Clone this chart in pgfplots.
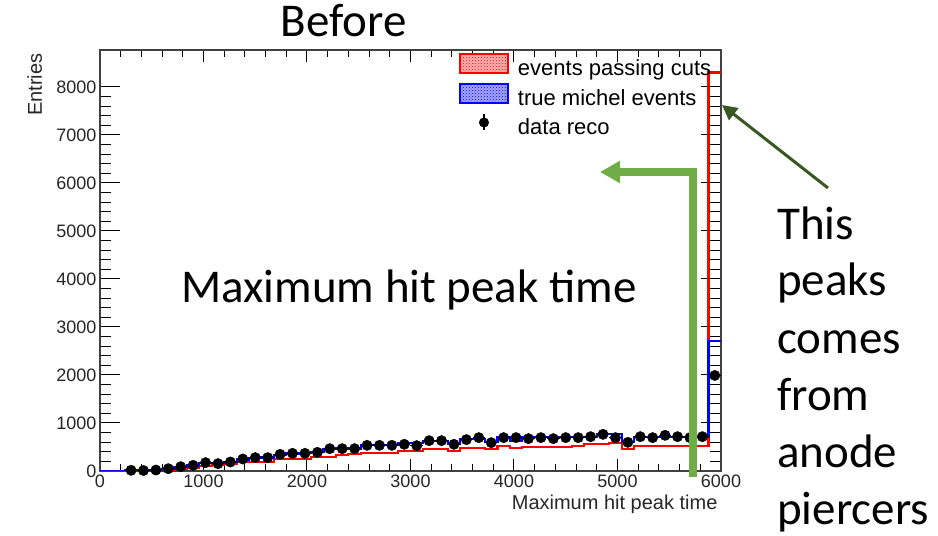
\documentclass[border=0pt]{standalone}
\usepackage{fontspec}
\setmainfont{Liberation Sans}
\newfontfamily\slidefont{Carlito}
\usepackage{pgfplots}
\pgfplotsset{compat=1.18}
\usepackage{pgfplotstable}
\usetikzlibrary{arrows.meta,patterns}

\definecolor{accentgreen}{HTML}{70AD47}
\definecolor{darkgreen}{HTML}{385723}
\definecolor{rootred}{RGB}{255,0,0}
\definecolor{rootblue}{RGB}{0,0,255}

% histogram contents, one row per bin (left edge), last row closes the final bin
\pgfplotstableread{
edge red blue
0    0    0
120  0    0
240  5    15
360  8    12
480  12   22
600  25   45
720  45   85
840  69   115
960  104  160
1080 125  160
1200 153  190
1320 181  240
1440 194  275
1560 194  280
1680 245  330
1800 245  365
1920 245  370
2040 285  390
2160 285  450
2280 333  470
2400 361  470
2520 382  535
2640 382  540
2760 382  545
2880 410  575
3000 417  590
3120 451  625
3240 451  625
3360 417  555
3480 472  660
3600 472  660
3720 451  604
3840 521  715
3960 486  625
4080 507  702
4200 507  702
4320 507  702
4440 507  702
4560 528  702
4680 556  702
4800 556  764
4920 576  764
5040 460  610
5160 520  702
5280 520  702
5400 520  702
5520 520  702
5640 520  702
5760 520  702
5880 8300 2715
6000 8300 2715
}\histtable

% reconstructed data: bin centre, entries, half bin width, statistical error
\pgfplotstableread{
x    y    ex  ey
300  15   60  3.9
420  10   60  3.2
540  20   60  4.5
660  48   60  6.9
780  90   60  9.5
900  118  60  10.9
1020 174  60  13.2
1140 153  60  12.4
1260 188  60  13.7
1380 250  60  15.8
1500 278  60  16.7
1620 278  60  16.7
1740 347  60  18.6
1860 368  60  19.2
1980 368  60  19.2
2100 389  60  19.7
2220 465  60  21.6
2340 465  60  21.6
2460 465  60  21.6
2580 535  60  23.1
2700 535  60  23.1
2820 535  60  23.1
2940 556  60  23.6
3060 528  60  23.0
3180 632  60  25.1
3300 632  60  25.1
3420 556  60  23.6
3540 653  60  25.6
3660 695  60  26.4
3780 590  60  24.3
3900 695  60  26.4
4020 695  60  26.4
4140 674  60  26.0
4260 695  60  26.4
4380 674  60  26.0
4500 695  60  26.4
4620 695  60  26.4
4740 715  60  26.7
4860 764  60  27.6
4980 695  60  26.4
5100 597  60  24.4
5220 715  60  26.7
5340 695  60  26.4
5460 743  60  27.3
5580 715  60  26.7
5700 695  60  26.4
5820 715  60  26.7
5940 1990 60  44.6
}\datatable

\begin{document}
\begin{tikzpicture}
\useasboundingbox (0pt,0pt) rectangle (938pt,536pt);
\begin{axis}[
  at={(100pt,65pt)}, anchor=south west,
  scale only axis, width=621pt, height=421pt,
  xmin=0, xmax=6000, ymin=0, ymax=8770,
  xtick={0,1000,...,6000}, ytick={0,1000,...,8000},
  minor x tick num=4, minor y tick num=4,
  tick align=inside, xtick pos=both, ytick pos=both,
  axis line style={line width=1.4pt, black!75},
  every tick/.style={black, line width=1pt},
  x tick style={/pgfplots/major tick length=12pt, /pgfplots/minor tick length=7pt},
  y tick style={/pgfplots/major tick length=20pt, /pgfplots/minor tick length=11pt},
  ticklabel style={font=\fontsize{18}{20}\selectfont, text=black!85},
  /pgf/number format/assume math mode=true,
  /pgf/number format/set thousands separator={},
  scaled ticks=false,
  xlabel={Maximum hit peak time},
  ylabel={Entries},
  label style={font=\fontsize{20}{24}\selectfont, text=black!85},
  xlabel style={at={(axis description cs:1,0)}, anchor=base east, yshift=-39pt},
  ylabel style={at={(axis description cs:-0.0934,1)}, anchor=base east},
  legend style={at={(axis description cs:0.5781,0.9917)}, anchor=north west,
    draw=none, fill=none, inner sep=0pt, outer sep=0pt,
    column sep=9pt, row sep=3pt,
    font=\fontsize{22}{26}\selectfont,
    nodes={inner sep=0pt, text height=16pt, text depth=5pt}},
  legend cell align=left,
]
\addplot[const plot, rootred, line width=2.2pt, forget plot] table[x=edge, y=red] {\histtable};
\addplot[const plot, rootblue, line width=2.2pt, forget plot] table[x=edge, y=blue] {\histtable};
\addplot[only marks, mark=*, mark size=5.2pt, black, forget plot,
  error bars/.cd, x dir=both, x explicit, y dir=both, y explicit,
  error bar style={line width=1.5pt, black}, error mark=none]
  table[x=x, y=y, x error=ex, y error=ey] {\datatable};

\addlegendimage{legend image code/.code={
  \draw[rootred, line width=2pt, fill=red!30, postaction={pattern=crosshatch dots, pattern color=red}]
    (0pt,-3.5pt) rectangle (48pt,15.5pt);}}
\addlegendentry{events passing cuts}
\addlegendimage{legend image code/.code={
  \draw[rootblue, line width=2pt, fill=blue!35, postaction={pattern=crosshatch dots, pattern color=blue}]
    (0pt,-3.5pt) rectangle (48pt,15.5pt);}}
\addlegendentry{true michel events}
\addlegendimage{legend image code/.code={
  \draw[black, line width=2pt] (24pt,-1pt) -- (24pt,15pt);
  \fill[black] (24pt,7pt) circle (4.8pt);}}
\addlegendentry{data reco}
\end{axis}

% slide annotations
\draw[accentgreen, line width=7.5pt, line join=miter,
  -{Triangle[length=20pt,width=21pt]}]
  (693pt,59pt) -- (693pt,364pt) -- (600pt,364pt);
\draw[darkgreen, line width=3pt, -{Triangle[length=15pt,width=15pt]}]
  (828pt,348pt) -- (722pt,431pt);

\node[anchor=base, inner sep=0pt, font=\slidefont\fontsize{47}{56}\selectfont] at (343.5pt,499pt) {Before};
\node[anchor=base, inner sep=0pt, font=\slidefont\fontsize{47}{56}\selectfont] at (409pt,233pt) {Maximum hit peak time};
\foreach \txt/\yb in {This/296.8, peaks/240.2, comes/182.8, from/125.2, anode/68.5, piercers/11.8}
  \node[anchor=base west, inner sep=0pt, font=\slidefont\fontsize{47}{56}\selectfont] at (777pt,\yb pt) {\txt};
\end{tikzpicture}
\end{document}
